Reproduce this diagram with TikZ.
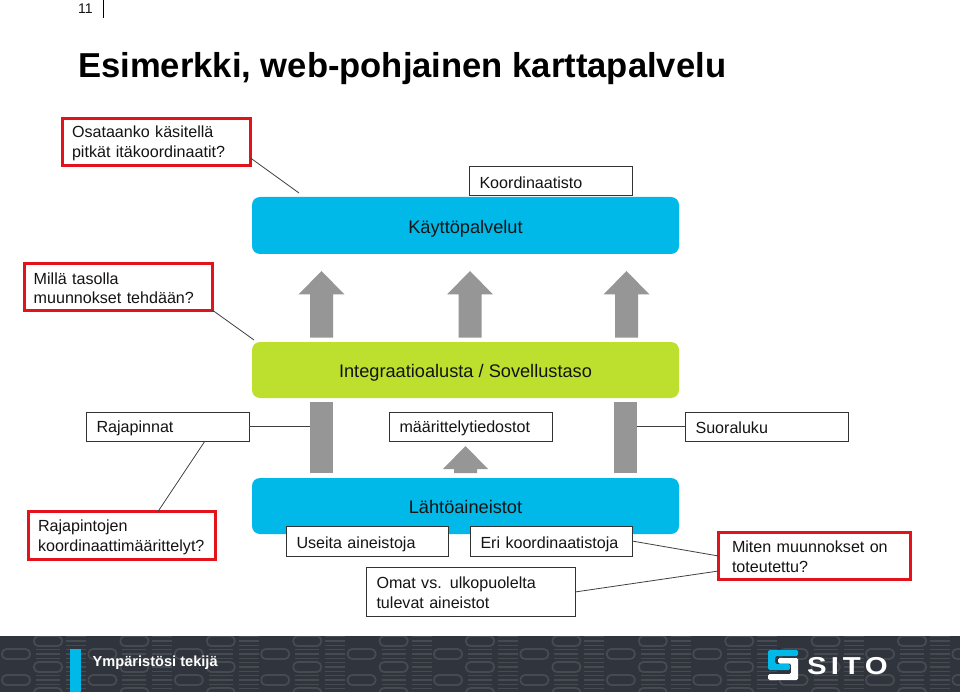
\documentclass[tikz,border=0pt]{standalone}
\usepackage{fontspec}
\setmainfont{Liberation Sans}
\newfontfamily\logofont[FakeStretch=1.2]{Liberation Sans}
\usetikzlibrary{calc}
\definecolor{skyb}{HTML}{00B9E8}
\definecolor{limeg}{HTML}{BCE02D}
\definecolor{arrg}{HTML}{969696}
\definecolor{redb}{HTML}{E3131B}
\definecolor{foot}{HTML}{30343C}
\definecolor{footl}{HTML}{464A51}
\definecolor{txt}{HTML}{141414}
\newcommand{\up}[1]{\rule{0pt}{#1pt}}
\tikzset{
 every node/.style={font=\fontsize{16.1}{19.7}\selectfont,text=txt},
 bandtext/.style={font=\fontsize{18.2}{22}\selectfont},
 band/.style={fill=#1,rounded corners=8pt,draw=none,inner sep=0pt},
 lab/.style={draw=black!80,line width=1pt,fill=white,inner sep=0pt,outer sep=0pt,inner xsep=10.5pt,align=left,anchor=north west},
 ask/.style={draw=redb,line width=3pt,fill=white,inner sep=0pt,outer sep=0pt,inner xsep=9.5pt,align=left,anchor=north west},
 link/.style={draw=black!75,line width=0.8pt},
 bigarr/.style={fill=arrg,draw=none},
 pill/.style={draw=footl,line width=1.8pt,rounded corners=4.5pt},
 stripe/.style={draw=footl,line width=1.3pt},
}
\begin{document}
\begin{tikzpicture}[x=1pt,y=-1pt]
\useasboundingbox (0,0) rectangle (960,692);
\fill[white] (0,0) rectangle (960,692);
% footer
\fill[foot] (0,636) rectangle (960,692);
\begin{scope}
\clip (0,636) rectangle (960,692);
\foreach \c in {-1,...,11}{
 \foreach \r in {0,1,2,3}{
  \pgfmathsetmacro{\xa}{\c*86.4}
  \pgfmathsetmacro{\ya}{636+\r*26}
  \draw[pill] (\xa+2,\ya+13) rectangle (\xa+30,\ya+23);
  \draw[pill] (\xa+34,\ya+0) rectangle (\xa+62,\ya+10);
  \foreach \d in {0,4.5,9}{
   \draw[stripe] (\xa+36,\ya+13.5+\d) -- (\xa+60,\ya+13.5+\d);
   \draw[stripe] (\xa+66,\ya+0.5+\d) -- (\xa+86,\ya+0.5+\d);
   \draw[stripe] (\xa+66,\ya+13.5+\d) -- (\xa+86,\ya+13.5+\d);
  }
 }
}
\end{scope}
\fill[skyb] (70,649) rectangle (81,692);
\node[anchor=base west,text=white,inner sep=0pt,font=\fontsize{14.6}{16}\selectfont\bfseries] (tag) at (92.5,666.5) {Ympäristösi tekijä};
% logo
\fill[skyb,rounded corners=1.5pt] (768,650) -- (798,650) -- (798,656) -- (775,656) -- (775,664) -- (790,664) -- (790,670) -- (768,670) -- cycle;
\fill[white,rounded corners=1.5pt] (768,674) -- (791,674) -- (791,663.5) -- (778,663.5) -- (778,658) -- (798,658) -- (798,680) -- (768,680) -- cycle;
\node[anchor=base west,text=white,inner sep=0pt,font=\logofont\bfseries\fontsize{24.5}{28}\selectfont] (sito) at (807,674.5) {S\kern4pt I\kern4pt T\kern4pt O};
% header
\node[anchor=base west,inner sep=0pt,font=\fontsize{14}{16}\selectfont] (pg) at (78,14) {11};
\coordinate (pa) at (103,0);
\coordinate (pb) at (103,18);
\draw[black,line width=1pt] (pa) -- (pb);
\node[anchor=base west,inner sep=0pt,text=black,font=\fontsize{34.6}{38}\selectfont\bfseries] (title) at (78,78) {Esimerkki, web-pohjainen karttapalvelu};
% bands
\fill[band=skyb] (252,197) rectangle (679,254);
\fill[band=limeg] (252,342) rectangle (679,398);
\fill[band=skyb] (252,478) rectangle (679,534);
\node[bandtext] (kp) at (465.5,228.5) {Käyttöpalvelut};
\node[bandtext] (ia) at (465.5,372.5) {Integraatioalusta / Sovellustaso};
\node[bandtext] (la) at (465.5,506.5) {Lähtöaineistot};
\coordinate (kpc) at (299,193);
\coordinate (iac) at (254,340);
% arrows
\foreach \x in {321.5,470,626.5}{
 \fill[bigarr] (\x,271) -- (\x+23,294.5) -- (\x+11.5,294.5) -- (\x+11.5,337.5) -- (\x-11.5,337.5) -- (\x-11.5,294.5) -- (\x-23,294.5) -- cycle;
}
\fill[bigarr] (465.5,446) -- (488,469) -- (477,469) -- (477,473) -- (454,473) -- (454,469) -- (443,469) -- cycle;
% boxes
\node[lab,minimum width=163pt,minimum height=29pt,text width=142pt] (koord) at (469,167) {\up{14}Koordinaatisto};
\node[lab,minimum width=163pt,minimum height=29pt,text width=142pt] (raj) at (86,412) {\up{15}Rajapinnat};
\node[lab,minimum width=163pt,minimum height=29pt,text width=142pt] (maar) at (389,412) {\up{15}määrittelytiedostot};
\node[lab,minimum width=163pt,minimum height=29pt,text width=142pt] (suo) at (685,412) {\up{15}Suoraluku};
\node[lab,minimum width=162pt,minimum height=30pt,text width=141pt] (use) at (286,526) {\up{18}Useita aineistoja};
\node[lab,minimum width=162pt,minimum height=30pt,text width=141pt] (eri) at (470,526) {\up{18}Eri koordinaatistoja};
\node[lab,minimum width=209pt,minimum height=49pt,text width=188pt] (omat) at (366,567.5) {\up{13}Omat vs. ulkopuolelta\\tulevat aineistot};
\node[ask,minimum width=188pt,minimum height=47pt,text width=169pt] (osa) at (62.5,118.5) {\up{14}Osataanko käsitellä\\pitkät itäkoordinaatit?};
\node[ask,minimum width=188pt,minimum height=47pt,text width=169pt] (mil) at (24.2,263.5) {\up{14}Millä tasolla\\muunnokset tehdään?};
\node[ask,minimum width=187pt,minimum height=48pt,text width=168pt] (rjk) at (28.5,511.5) {\up{15.5}Rajapintojen\\koordinaattimäärittelyt?};
\node[ask,inner xsep=13.5pt,minimum width=192pt,minimum height=47pt,text width=165pt] (mit) at (718.5,532.5) {\up{13}Miten muunnokset on\\toteutettu?};
% bars with connectors beneath
\coordinate (b1) at (321,426.5);
\coordinate (b2) at (625,426.5);
\draw[link] (raj.east) -- (raj.east -| b1);
\draw[link] (suo.west) -- (suo.west -| b2);
\fill[arrg] (310,402) rectangle (333,473);
\fill[arrg] (614,402) rectangle (637,473);
% connectors
\draw[link] (osa.east |- 0,158) -- (kpc);
\draw[link] (mil.east |- 0,310) -- (iac);
\draw[link] (raj.south -| 205,0) -- (rjk.north -| 158,0);
\draw[link] (eri.east) -- (mit.west |- 0,556);
\draw[link] (omat.east) -- (mit.west |- 0,571);
\end{tikzpicture}
\end{document}
